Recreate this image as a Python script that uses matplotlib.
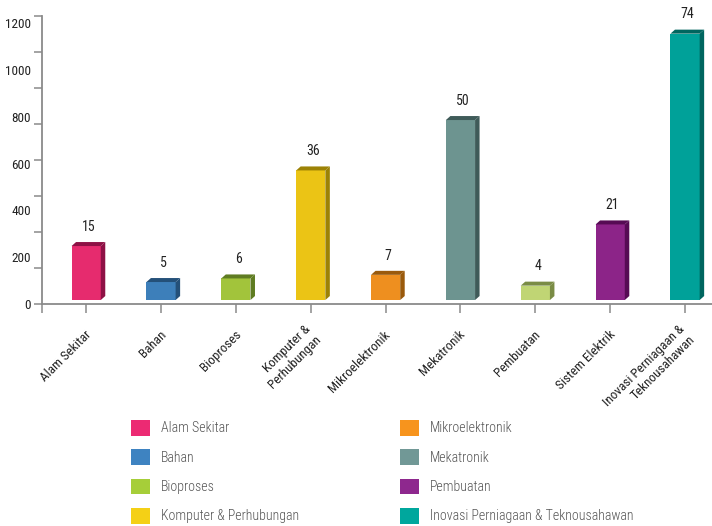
import numpy as np
import matplotlib as mpl
mpl.use('Agg')
import matplotlib.pyplot as plt
from matplotlib.patches import Polygon, Patch
import matplotlib.transforms as mtransforms

plt.rcParams['font.family'] = ['Roboto Condensed', 'Liberation Sans', 'DejaVu Sans']

# bars
categories = ['Alam Sekitar', 'Bahan', 'Bioproses', 'Komputer &\nPerhubungan',
              'Mikroelektronik', 'Mekatronik', 'Pembuatan', 'Sistem Elektrik',
              'Inovasi Perniagaan &\nTeknousahawan']
values = [15, 5, 6, 36, 7, 50, 4, 21, 74]
bar_colors = ['#e62b6e', '#3d7fba', '#a2c43b', '#ebc415', '#ee8f1f',
              '#6d9490', '#c0d574', '#8c2488', '#00a199']
side_colors = ['#8e1145', '#245079', '#5f7c22', '#9c8205', '#9a5a0c',
               '#3f5b59', '#7a8c45', '#560b54', '#00665f']

# legend (as printed, differs from the bars)
legend_left = ['Alam Sekitar', 'Bahan', 'Bioproses', 'Komputer & Perhubungan']
legend_left_colors = ['#ec2a73', '#3e83c1', '#a6ce39', '#f4d016']
legend_right = ['Mikroelektronik', 'Mekatronik', 'Pembuatan',
                'Inovasi Perniagaan & Teknousahawan']
legend_right_colors = ['#f7941d', '#719896', '#8e288e', '#00a79d']

ytick_labels = [0, 200, 400, 600, 800, 1000, 1200]
label_scale = 1200 / 78.0

W, H = 712, 526
fig = plt.figure(figsize=(W / 100, H / 100), dpi=100)
ax = fig.add_axes([42 / W, 1 - 304 / H, 1 - 42 / W, 288 / H])

xmin, xmax = -0.59, 8.36
ax.set_xlim(xmin, xmax)
ax.set_ylim(0, 80)

x = np.arange(len(values))
base = 1.1
bars = ax.bar(x, values, width=0.39, bottom=base, color=bar_colors,
              edgecolor='none', zorder=3)

# fake 3d depth, a few pixels right and up
px_x = ax.get_position().width * W / (xmax - xmin)
px_y = ax.get_position().height * H / 80.0
dx, dy = 4.5 / px_x, 4.0 / px_y

for rect, sc, v in zip(bars, side_colors, values):
    x0, w = rect.get_x(), rect.get_width()
    y0, h = rect.get_y(), rect.get_height()
    x1, y1 = x0 + w, y0 + h
    ax.add_patch(Polygon([(x1, y0), (x1 + dx, y0 + dy), (x1 + dx, y1 + dy), (x1, y1)],
                         closed=True, facecolor=sc, edgecolor='none', zorder=3))
    ax.add_patch(Polygon([(x0, y1), (x1, y1), (x1 + dx, y1 + dy), (x0 + dx, y1 + dy)],
                         closed=True, facecolor=sc, edgecolor='none', zorder=3))
    ax.annotate(str(v), (x0 + w / 2 + dx / 2, y1 + dy), xytext=(0, 6),
                textcoords='offset points', ha='center', va='bottom',
                fontsize=10, color='#222222')

axis_col = '#8a8a8a'
for s in ['top', 'right']:
    ax.spines[s].set_visible(False)
for s in ['left', 'bottom']:
    ax.spines[s].set_color(axis_col)
    ax.spines[s].set_linewidth(1.3)

ax.set_yticks(np.arange(0, 81, 10))
ax.set_yticklabels([])
ax.tick_params(axis='y', length=6, width=1.1, color=axis_col)

sec = ax.secondary_yaxis('left', functions=(lambda v: v * label_scale,
                                            lambda v: v / label_scale))
sec.set_yticks(ytick_labels)
sec.tick_params(length=0, pad=8, labelsize=9.5, labelcolor='#222222')
sec.spines['left'].set_visible(False)

ax.set_xticks([xmin] + list(x))
ax.set_xticklabels([''] + categories, rotation=45, ha='right', va='center',
                   rotation_mode='anchor', multialignment='right',
                   fontsize=9.5, color='#222222')
ax.tick_params(axis='x', length=6.5, width=1.1, color=axis_col, pad=14)
shift = mtransforms.ScaledTranslation(3 / 100, 0, fig.dpi_scale_trans)
for lab in ax.get_xticklabels():
    lab.set_transform(lab.get_transform() + shift)

leg_kw = dict(loc='upper left', frameon=False, labelcolor='#555555',
              prop={'size': 10, 'weight': 'light'},
              handlelength=1.36, handleheight=1.36, handletextpad=0.8,
              labelspacing=0.98, borderpad=0, borderaxespad=0)
fig.legend(handles=[Patch(facecolor=c, label=l) for l, c in zip(legend_left, legend_left_colors)],
           bbox_to_anchor=(131 / W, 1 - 420 / H), **leg_kw)
fig.legend(handles=[Patch(facecolor=c, label=l) for l, c in zip(legend_right, legend_right_colors)],
           bbox_to_anchor=(400 / W, 1 - 420 / H), **leg_kw)

fig.savefig('out.png', dpi=100)
